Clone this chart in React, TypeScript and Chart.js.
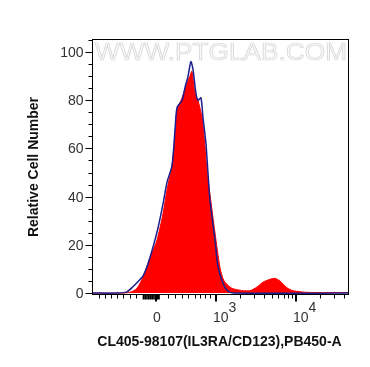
import React, { useEffect, useRef } from "react";
import { Chart, registerables } from "chart.js";

Chart.register(...registerables);

// Channel positions (0..1024 display channels of the logicle axis) and relative cell counts
const redX = [0, 104, 151, 179, 203, 231, 259, 283, 299, 319, 331, 339, 359, 378, 390, 398, 410, 422, 438, 450, 458, 470, 490, 510, 522, 530, 550, 562, 590, 602, 630, 657, 681, 709, 729, 749, 777, 801, 857, 1024];
const redY = [0, 0, 0.3, 2, 6.6, 14.5, 22, 33, 43, 53, 66, 76, 81, 87, 90, 92, 83, 80, 73, 61, 51, 41, 25, 10.5, 6, 4.5, 2.5, 1.8, 1.2, 1, 1, 2.5, 4.5, 5.7, 6.1, 5, 2.2, 1, 0.3, 0.2];

const blueX = [0, 104, 139, 163, 191, 203, 219, 243, 263, 283, 299, 319, 331, 339, 359, 371, 382, 394, 402, 414, 422, 434, 442, 454, 462, 470, 490, 502, 522, 538, 562, 1024];
const blueY = [0, 0, 0.5, 2.6, 5.6, 7, 10.9, 19, 27, 37, 46, 53, 68, 77, 80, 85.5, 89.6, 96, 93, 83, 80, 81, 73, 62, 50, 38.6, 22, 11, 4, 1.2, 0, 0];

// Axis ticks
const yTickValues = [0, 20, 40, 60, 80, 100];
const yMinorValues = [5, 10, 15, 25, 30, 35, 45, 50, 55, 65, 70, 75, 85, 90, 95, 105];
const xMinorValues = [28, 52, 76, 100, 124, 151, 175, 303, 331, 359, 382, 410, 430, 450, 470, 590, 645, 685, 717, 741, 765, 781, 797, 908, 964, 1004];
const xClusterValues = [205, 212, 219, 226, 233, 240, 247, 254, 261, 267];
const xMajorValues = [255, 494, 813];
const xLabelBase = ["0", "10", "10"];
const xLabelExp = ["", "3", "4"];

const xTitle = "CL405-98107(IL3RA/CD123),PB450-A";
const yTitle = "Relative Cell Number";
const watermark = "WWW.PTGLAB.COM";

const FONT = 'Arial, "Liberation Sans", sans-serif';

export default function App() {
  const ref = useRef<HTMLCanvasElement | null>(null);

  useEffect(() => {
    if (!ref.current) return;

    const decor = {
      id: "decor",
      beforeDatasetsDraw(chart: any) {
        const { ctx, chartArea } = chart;
        ctx.save();
        ctx.font = `24px ${FONT}`;
        const w = ctx.measureText(watermark).width;
        const target = 252;
        ctx.translate(chartArea.left + 3, chartArea.top + 14);
        ctx.scale(target / w, 1);
        ctx.textBaseline = "middle";
        ctx.textAlign = "left";
        ctx.fillStyle = "#fafafa";
        ctx.fillText(watermark, 0, 0);
        ctx.strokeStyle = "#d4d4d4";
        ctx.lineWidth = 0.7;
        ctx.strokeText(watermark, 0, 0);
        ctx.restore();
      },
      afterDraw(chart: any) {
        const { ctx, chartArea, scales } = chart;
        const xs = scales.x;
        const ys = scales.y;
        ctx.save();
        // frame
        ctx.strokeStyle = "#000";
        ctx.lineWidth = 1;
        ctx.strokeRect(
          Math.round(chartArea.left) + 0.5,
          Math.round(chartArea.top) + 0.5,
          Math.round(chartArea.right - chartArea.left) - 1,
          Math.round(chartArea.bottom - chartArea.top) - 1
        );
        const L = Math.round(chartArea.left) + 0.5;
        const B = Math.round(chartArea.bottom) - 0.5;
        // y ticks
        ctx.beginPath();
        yTickValues.forEach((v) => {
          const py = Math.round(ys.getPixelForValue(v)) + 0.5;
          ctx.moveTo(L - 7, py);
          ctx.lineTo(L, py);
        });
        yMinorValues.forEach((v) => {
          const py = Math.round(ys.getPixelForValue(v)) + 0.5;
          ctx.moveTo(L - 4, py);
          ctx.lineTo(L, py);
        });
        // x ticks
        xMinorValues.forEach((v) => {
          const px = Math.round(xs.getPixelForValue(v)) + 0.5;
          ctx.moveTo(px, B);
          ctx.lineTo(px, B + 4);
        });
        ctx.stroke();
        ctx.beginPath();
        ctx.lineWidth = 1.6;
        xClusterValues.forEach((v) => {
          const px = xs.getPixelForValue(v);
          ctx.moveTo(px, B);
          ctx.lineTo(px, B + 5);
        });
        ctx.stroke();
        ctx.beginPath();
        ctx.lineWidth = 2;
        xMajorValues.forEach((v) => {
          const px = Math.round(xs.getPixelForValue(v));
          ctx.moveTo(px, B);
          ctx.lineTo(px, B + 7);
        });
        ctx.stroke();
        // y labels
        ctx.fillStyle = "#333";
        ctx.font = `14px ${FONT}`;
        ctx.textAlign = "right";
        ctx.textBaseline = "middle";
        yTickValues.forEach((v) => {
          ctx.fillText(String(v), L - 9, ys.getPixelForValue(v) + 1);
        });
        // x labels
        ctx.textBaseline = "alphabetic";
        xMajorValues.forEach((v, i) => {
          const px = xs.getPixelForValue(v);
          if (!xLabelExp[i]) {
            ctx.textAlign = "center";
            ctx.fillText(xLabelBase[i], px + 1, 322);
          } else {
            ctx.textAlign = "left";
            const bx = px - 3;
            ctx.fillText(xLabelBase[i], bx, 322);
            const bw = ctx.measureText(xLabelBase[i]).width;
            ctx.fillText(xLabelExp[i], bx + bw, 312);
          }
        });
        // titles
        ctx.fillStyle = "#111";
        ctx.font = `bold 14px ${FONT}`;
        ctx.textAlign = "center";
        ctx.textBaseline = "middle";
        ctx.fillText(xTitle, (chartArea.left + chartArea.right) / 2 - 1, 342);
        ctx.translate(34, 167);
        ctx.rotate(-Math.PI / 2);
        ctx.fillText(yTitle, 0, 0);
        ctx.restore();
      },
    };

    const chart = new Chart(ref.current, {
      type: "line",
      data: {
        datasets: [
          {
            label: "Control",
            data: blueX.map((x, i) => ({ x, y: blueY[i] })),
            borderColor: "#1e1e8e",
            borderWidth: 1.5,
            pointRadius: 0,
            fill: false,
            tension: 0.25,
          },
          {
            label: "CD123",
            data: redX.map((x, i) => ({ x, y: redY[i] })),
            borderColor: "#ff0000",
            backgroundColor: "#ff0000",
            borderWidth: 1,
            pointRadius: 0,
            fill: "origin",
            tension: 0.25,
          },
        ],
      },
      options: {
        responsive: false,
        animation: false,
        layout: { padding: { left: 92, top: 39, right: 21, bottom: 72 } },
        plugins: { legend: { display: false }, tooltip: { enabled: false } },
        scales: {
          x: { type: "linear", min: 0, max: 1024, display: false },
          y: { type: "linear", min: -0.8, max: 105.4, display: false },
        },
      },
      plugins: [decor],
    });
    return () => chart.destroy();
  }, []);

  return (
    <div style={{ position: "fixed", left: 0, top: 0, width: 370, height: 367, background: "#fff" }}>
      <canvas ref={ref} width={370} height={367} style={{ display: "block" }} />
    </div>
  );
}
